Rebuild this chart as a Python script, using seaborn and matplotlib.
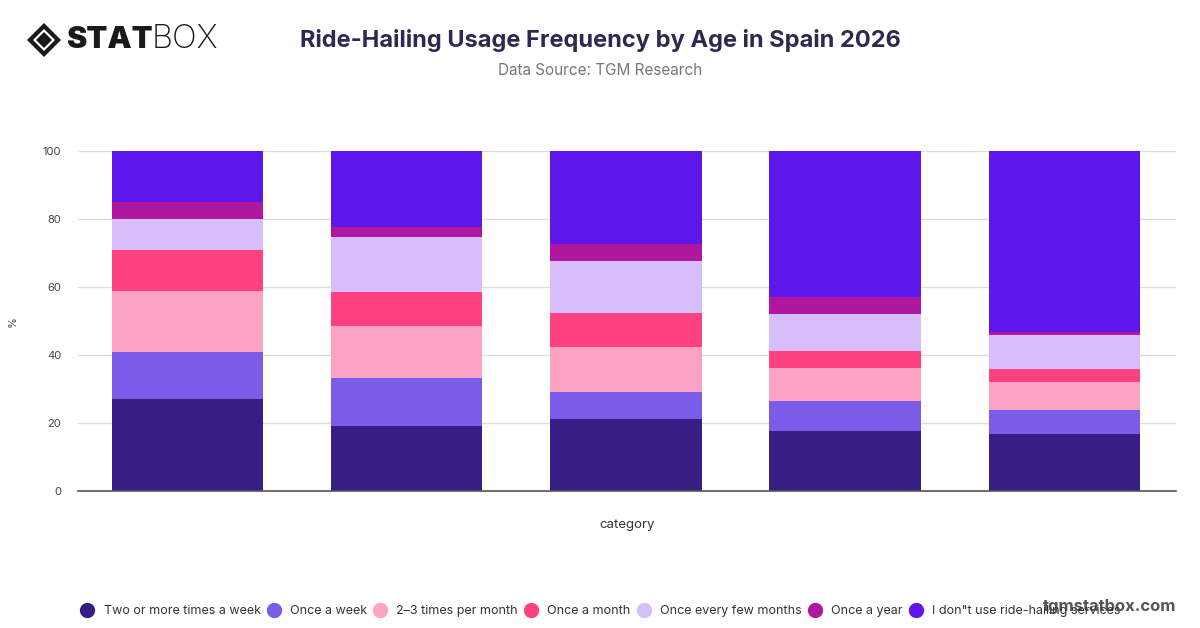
import numpy as np
import pandas as pd
import matplotlib
matplotlib.use("Agg")
import matplotlib.pyplot as plt
from matplotlib.lines import Line2D
from matplotlib.patches import Polygon
import seaborn as sns

categories = ["18-24", "25-34", "35-44", "45-54", "55-65"]
series_names = ["Two or more times a week", "Once a week", "2\u20133 times per month",
                "Once a month", "Once every few months", "Once a year",
                "I don\"t use ride-hailing services"]
two_plus_week = [27.0, 19.1, 21.1, 17.7, 16.9]
once_week = [14.0, 14.2, 8.2, 8.7, 7.0]
two_three_month = [18.0, 15.3, 13.2, 9.8, 8.1]
once_month = [12.0, 9.9, 10.0, 5.0, 4.0]
few_months = [9.0, 16.3, 15.2, 10.8, 10.0]
once_year = [5.0, 3.0, 5.0, 5.0, 0.9]
no_use = [15.0, 22.2, 27.3, 43.0, 53.1]
series_values = [two_plus_week, once_week, two_three_month, once_month,
                 few_months, once_year, no_use]
colors = ["#371D84", "#7B5CE8", "#FCA3C3", "#FF4081", "#D5BEFA", "#B0179F", "#5E17EB"]
y_ticks = [0, 20, 40, 60, 80, 100]

sns.set_theme(style="white")
plt.rcParams["font.family"] = ["Inter", "DejaVu Sans"]

fig = plt.figure(figsize=(12, 6.28), dpi=100)
ax = fig.add_axes([0.065, 0.218, 0.915, 0.541])

cum = np.cumsum(np.array(series_values), axis=0)
for i in range(len(series_names) - 1, -1, -1):
    df = pd.DataFrame({"category": categories, "value": cum[i]})
    sns.barplot(data=df, x="category", y="value", color=colors[i], saturation=1,
                width=0.69, ax=ax, edgecolor="none", linewidth=0, zorder=2)

ax.set_xlim(-0.5, 4.51)
ax.set_ylim(0, 100)
ax.set_yticks(y_ticks)
ax.set_yticklabels([str(t) for t in y_ticks], fontsize=8, color="#444444")
ax.set_xticks([])
ax.grid(axis="y", color="#dddddd", linewidth=1, zorder=0)
ax.set_axisbelow(True)
for s in ["top", "right", "left"]:
    ax.spines[s].set_visible(False)
ax.spines["bottom"].set_color("#555555")
ax.spines["bottom"].set_linewidth(1.2)
ax.tick_params(axis="y", length=0, pad=12)
ax.set_xlabel("category", fontsize=9.5, color="#333333", labelpad=20)
ax.set_ylabel("%", fontsize=8, color="#444444", labelpad=18)

fig.text(0.5, 0.936, "Ride-Hailing Usage Frequency by Age in Spain 2026", ha="center",
         va="center", fontsize=17, fontweight="bold", color="#2E2A4F")
fig.text(0.5, 0.887, "Data Source: TGM Research", ha="center", va="center",
         fontsize=11, color="#777777")

# logo
cx, cy, r = 44 / 1200, 1 - 40 / 628, 17
def pt(dx, dy):
    return (cx + dx / 1200, cy + dy / 628)
outer = Polygon([pt(0, r), pt(r, 0), pt(0, -r), pt(-r, 0)], closed=True,
                transform=fig.transFigure, facecolor="#1a1a1a", edgecolor="none")
inner_w = Polygon([pt(0, 11), pt(11, 0), pt(0, -11), pt(-11, 0)], closed=True,
                  transform=fig.transFigure, facecolor="white", edgecolor="none")
inner = Polygon([pt(0, 8), pt(8, 0), pt(0, -8), pt(-8, 0)], closed=True,
                transform=fig.transFigure, facecolor="#1a1a1a", edgecolor="none")
for p in (outer, inner_w, inner):
    fig.patches.append(p)
fig.text(66 / 1200, cy, "STAT", ha="left", va="center", fontsize=22,
         fontweight="black", color="#1a1a1a")
fig.text(152 / 1200, cy, "BOX", ha="left", va="center", fontsize=23.5,
         fontweight="light", color="#1a1a1a")

handles = [Line2D([0], [0], marker="o", linestyle="none", markersize=10,
                  markerfacecolor=c, markeredgecolor=c) for c in colors]
fig.legend(handles, series_names, loc="center left", bbox_to_anchor=(81 / 1200, 0.027),
           ncol=7, frameon=False, fontsize=9, handlelength=1.0, handletextpad=0.8,
           columnspacing=0.55, labelcolor="#333333", borderpad=0, borderaxespad=0)

fig.text(0.98, 0.035, "tgmstatbox.com", ha="right", va="center", fontsize=12,
         fontweight="bold", color="#555555")

fig.savefig("out.png", dpi=100)
